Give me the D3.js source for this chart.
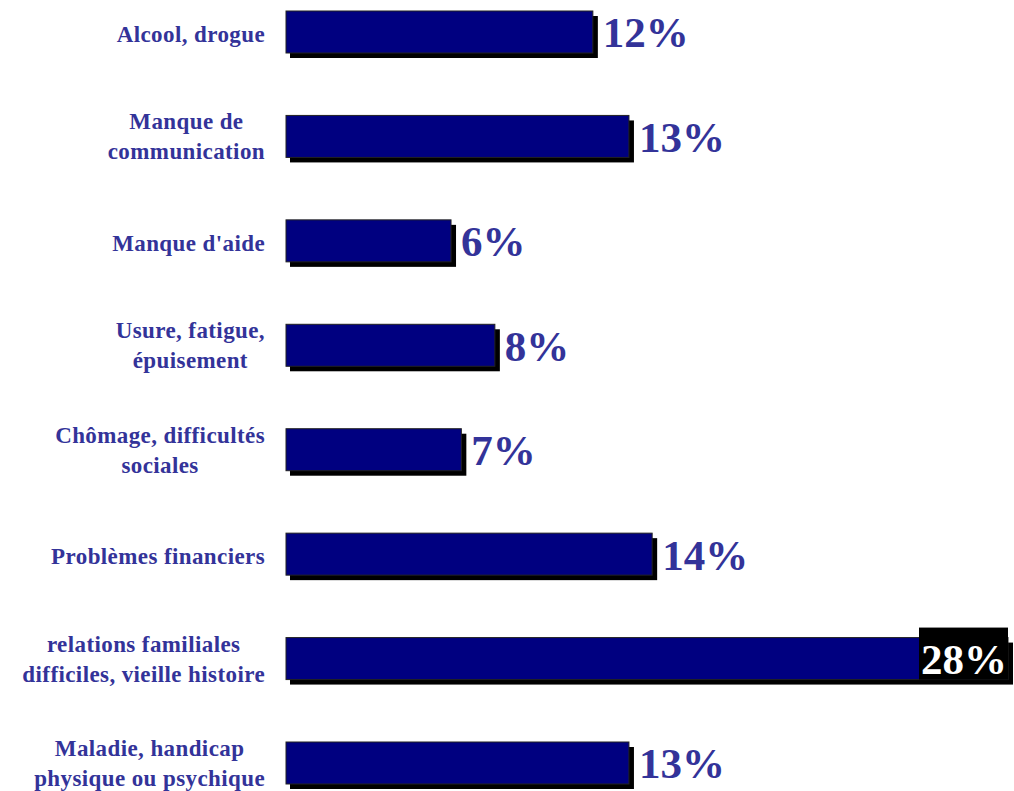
<!DOCTYPE html>
<html>
<head>
<meta charset="utf-8">
<script src="https://cdn.jsdelivr.net/npm/d3@7"></script>
<style>
  body { margin: 0; background: #fff; }
  text { font-family: "Liberation Serif", "Times New Roman", serif; font-weight: bold; }
</style>
</head>
<body>
<div id="chart"></div>
<script>
// categories (one array per label line) and values
const categories = [
    ['Alcool, drogue'],
    ['Manque de', 'communication'],
    ["Manque d'aide"],
    ['Usure, fatigue,', 'épuisement'],
    ['Chômage, difficultés', 'sociales'],
    ['Problèmes financiers'],
    ['relations familiales', 'difficiles, vieille histoire'],
    ['Maladie, handicap', 'physique ou psychique']
];
const values = [11.9, 13.3, 6.4, 8.1, 6.8, 14.2, 28.0, 13.3];

const width = 1014, height = 791;
const barH = 42, shadow = 5;
const labelRight = 265;
const textColor = '#333399';

const svg = d3.select('#chart').append('svg')
    .attr('width', width)
    .attr('height', height);

const data = categories.map((c, i) => ({ id: i, lines: c, value: values[i] }));

const xScale = d3.scaleLinear()
    .domain([0, 28])
    .range([286, 1008]);

const yScale = d3.scalePoint()
    .domain(data.map(d => d.id))
    .range([32, 763]);

const fmt = d => d3.format('.0f')(d) + '%';

// shadows
svg.selectAll('.shadow')
    .data(data)
  .join('rect')
    .attr('class', 'shadow')
    .attr('x', xScale(0) + shadow - 1)
    .attr('y', d => yScale(d.id) - barH / 2 + shadow)
    .attr('width', d => xScale(d.value) - xScale(0) + 1)
    .attr('height', barH)
    .attr('fill', '#000');

// bars
svg.selectAll('.bar')
    .data(data)
  .join('rect')
    .attr('class', 'bar')
    .attr('x', xScale(0))
    .attr('y', d => yScale(d.id) - barH / 2)
    .attr('width', d => xScale(d.value) - xScale(0))
    .attr('height', barH)
    .attr('fill', '#000080')
    .attr('stroke', '#222')
    .attr('stroke-width', 1);

// category labels: block right-aligned, lines centred on the longest line
const catG = svg.selectAll('.cat')
    .data(data)
  .join('g')
    .attr('class', 'cat');

catG.each(function(d) {
    const g = d3.select(this);
    const n = d.lines.length;
    const texts = g.selectAll('text')
        .data(d.lines)
      .join('text')
        .attr('font-size', 23)
        .attr('letter-spacing', 0.4)
        .attr('fill', textColor)
        .attr('text-anchor', 'middle')
        .attr('y', (t, i) => yScale(d.id) + (n === 1 ? 2 : 0) + (i - (n - 1) / 2) * 30)
        .attr('dy', '0.35em')
        .text(t => t);
    let maxW = 0;
    texts.each(function() { maxW = Math.max(maxW, this.getComputedTextLength()); });
    texts.attr('x', labelRight - maxW / 2);
});

// value labels
const valG = svg.selectAll('.val')
    .data(data)
  .join('g')
    .attr('class', 'val');

valG.each(function(d) {
    const g = d3.select(this);
    const inside = d.value === d3.max(values);
    const t = g.append('text')
        .attr('font-size', 43)
        .attr('dy', '0.36em')
        .attr('y', yScale(d.id))
        .text(fmt(d.value));
    if (inside) {
        t.attr('fill', '#fff')
            .attr('text-anchor', 'end')
            .attr('x', xScale(d.value) - 1);
        const bb = t.node().getBBox();
        g.insert('rect', 'text')
            .attr('x', bb.x - 2)
            .attr('y', yScale(d.id) - barH / 2 - 10)
            .attr('width', bb.width + 3)
            .attr('height', 52)
            .attr('fill', '#000');
    } else {
        t.attr('fill', textColor)
            .attr('x', xScale(d.value) + 10);
    }
});
</script>
</body>
</html>
